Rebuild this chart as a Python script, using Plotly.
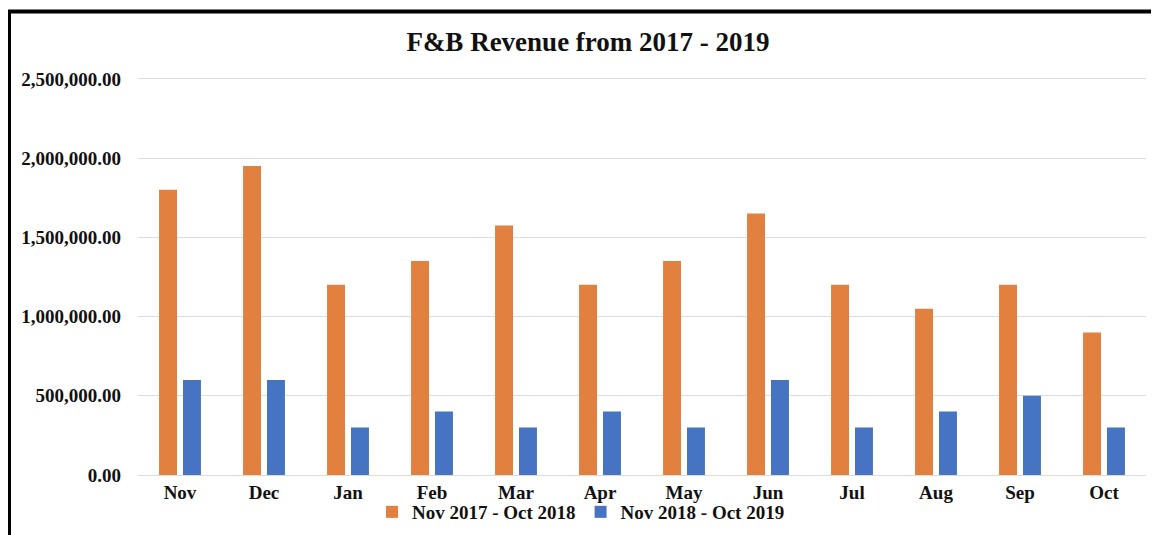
import plotly.graph_objects as go

months = ["Nov", "Dec", "Jan", "Feb", "Mar", "Apr", "May", "Jun", "Jul", "Aug", "Sep", "Oct"]
rev_2017_2018 = [1800000, 1950000, 1200000, 1350000, 1575000, 1200000,
                 1350000, 1650000, 1200000, 1050000, 1200000, 900000]
rev_2018_2019 = [600000, 600000, 300000, 400000, 300000, 400000,
                 300000, 600000, 300000, 400000, 500000, 300000]
series_names = ["Nov 2017 - Oct 2018", "Nov 2018 - Oct 2019"]
y_ticks = [0, 500000, 1000000, 1500000, 2000000, 2500000]

FONT = "Liberation Serif"
OFF = 8  # page body margin of the html page
W, H = 1159 - OFF, 535 - OFF
# target plot area in window pixels
X0, X1, Y0, Y1 = 138, 1146, 77, 475
L, R, T, B = X0 - OFF, (W + OFF) - X1, Y0 - OFF, (H + OFF) - Y1
pw, ph = W - L - R, H - T - B
YMAX = 2512000

fig = go.Figure()
fig.add_trace(go.Bar(x=months, y=rev_2017_2018, name=series_names[0],
                     marker=dict(color="#E2813F", line=dict(width=0))))
fig.add_trace(go.Bar(x=months, y=rev_2018_2019, name=series_names[1],
                     marker=dict(color="#4773C3", line=dict(width=0))))

def px_x(x):
    return (x - X0) / pw

def px_y(y):
    return (Y1 - y) / ph

fig.update_layout(
    width=W, height=H,
    margin=dict(l=L, r=R, t=T, b=B, pad=0, autoexpand=False),
    paper_bgcolor="white", plot_bgcolor="white",
    barmode="group", bargap=0.43, bargroupgap=0.25,
    font=dict(family=FONT, color="#111111", size=19),
    title=dict(text="<b>F&B Revenue from 2017 - 2019</b>",
               x=px_x(588), xref="paper", xanchor="center",
               y=1 - (42 - OFF) / H, yanchor="middle",
               font=dict(family=FONT, size=27, color="#111111")),
    showlegend=True,
    legend=dict(orientation="h", x=px_x(581), xanchor="center",
                y=px_y(512), yanchor="middle",
                font=dict(family=FONT, size=19, color="#111111", weight="bold"),
                itemwidth=30, tracegroupgap=0, bgcolor="rgba(0,0,0,0)"),
    xaxis=dict(showgrid=False, showline=False, zeroline=False,
               tickfont=dict(family=FONT, size=19, color="#111111", weight="bold"),
               ticklabelstandoff=4),
    yaxis=dict(range=[0, YMAX], tickvals=y_ticks, tickformat=",.2f",
               showgrid=True, gridcolor="#DCDCDC", gridwidth=1,
               zeroline=True, zerolinecolor="#DCDCDC", zerolinewidth=1,
               showline=False,
               tickfont=dict(family=FONT, size=19, color="#111111", weight="bold"),
               ticklabelstandoff=16),
)

# black frame (left and top edges visible, others cropped)
fig.add_shape(type="line", xref="paper", yref="paper",
              x0=px_x(9), x1=px_x(9), y0=px_y(10), y1=px_y(545),
              line=dict(color="black", width=4))
fig.add_shape(type="line", xref="paper", yref="paper",
              x0=px_x(7), x1=px_x(1170), y0=px_y(11.5), y1=px_y(11.5),
              line=dict(color="black", width=4))
fig.add_shape(type="line", xref="paper", yref="paper",
              x0=px_x(1157), x1=px_x(1157), y0=px_y(13), y1=px_y(545),
              line=dict(color="#E6E6E6", width=1))

fig.write_html("out.html")
